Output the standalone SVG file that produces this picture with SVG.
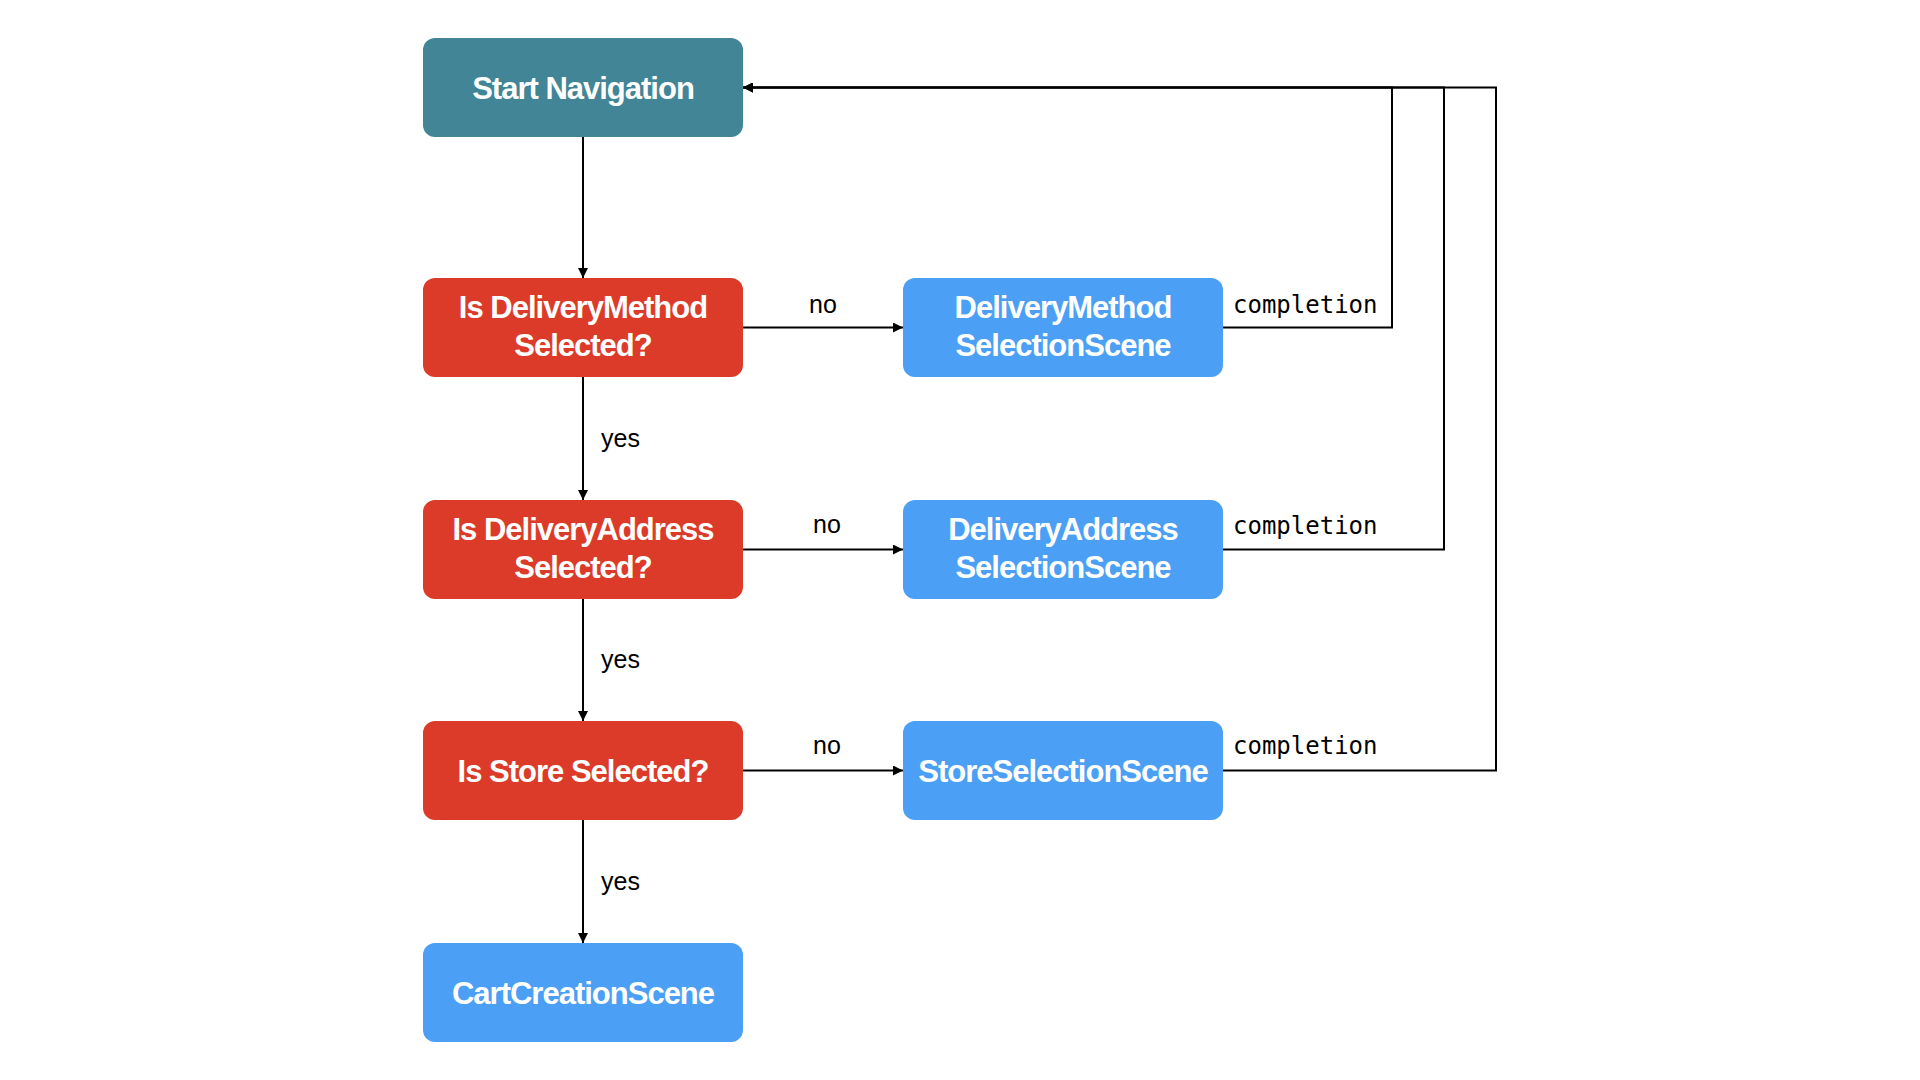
<svg xmlns="http://www.w3.org/2000/svg" width="1920" height="1080" viewBox="0 0 1920 1080">
<style>
.node-text{font-family:"Liberation Sans",Arial,sans-serif;font-weight:bold;font-size:31px;letter-spacing:-1px;fill:#ffffff;text-anchor:middle}
.lbl{font-family:"Liberation Sans",Arial,sans-serif;font-size:25px;fill:#000000}
.mono{font-family:"DejaVu Sans Mono","Liberation Mono",monospace;font-size:24px;fill:#000000}
.edge{fill:none;stroke:#000000;stroke-width:2}
.start{fill:#418596}
.decision{fill:#DB3B28}
.scene{fill:#4BA0F6}
</style>
<defs>
<marker id="arrow" markerUnits="userSpaceOnUse" markerWidth="12" markerHeight="10" refX="10" refY="5" orient="auto">
<path d="M0,0 L10,5 L0,10 Z" fill="#000000"/>
</marker>
</defs>
<rect width="1920" height="1080" fill="#ffffff"/>
<g id="connectors">
<path class="edge" d="M583,137 V278" marker-end="url(#arrow)"/>
<path class="edge" d="M583,377 V500" marker-end="url(#arrow)"/>
<path class="edge" d="M583,599 V721" marker-end="url(#arrow)"/>
<path class="edge" d="M583,820 V943" marker-end="url(#arrow)"/>
<path class="edge" d="M743,327.5 H903" marker-end="url(#arrow)"/>
<path class="edge" d="M743,549.5 H903" marker-end="url(#arrow)"/>
<path class="edge" d="M743,770.5 H903" marker-end="url(#arrow)"/>
<path class="edge" d="M1223,327.5 H1392 V87.5 H743" marker-end="url(#arrow)"/>
<path class="edge" d="M1223,549.5 H1444 V87.5 H743" marker-end="url(#arrow)"/>
<path class="edge" d="M1223,770.5 H1496 V87.5 H743" marker-end="url(#arrow)"/>
<text class="lbl" x="823" y="313" text-anchor="middle">no</text>
<text class="lbl" x="827" y="533" text-anchor="middle">no</text>
<text class="lbl" x="827" y="754" text-anchor="middle">no</text>
<text class="lbl" x="601" y="447">yes</text>
<text class="lbl" x="601" y="668">yes</text>
<text class="lbl" x="601" y="890">yes</text>
<text class="mono" x="1233" y="313">completion</text>
<text class="mono" x="1233" y="534">completion</text>
<text class="mono" x="1233" y="754">completion</text>
</g>
<g id="start-navigation">
<rect class="start" x="423" y="38" width="320" height="99" rx="12"/>
<text class="node-text" x="583" y="98.5">Start Navigation</text>
</g>
<g id="is-delivery-method-selected">
<rect class="decision" x="423" y="278" width="320" height="99" rx="12"/>
<text class="node-text" x="583" y="318">Is DeliveryMethod</text>
<text class="node-text" x="583" y="356">Selected?</text>
</g>
<g id="delivery-method-selection-scene">
<rect class="scene" x="903" y="278" width="320" height="99" rx="12"/>
<text class="node-text" x="1063" y="318">DeliveryMethod</text>
<text class="node-text" x="1063" y="356">SelectionScene</text>
</g>
<g id="is-delivery-address-selected">
<rect class="decision" x="423" y="500" width="320" height="99" rx="12"/>
<text class="node-text" x="583" y="540">Is DeliveryAddress</text>
<text class="node-text" x="583" y="578">Selected?</text>
</g>
<g id="delivery-address-selection-scene">
<rect class="scene" x="903" y="500" width="320" height="99" rx="12"/>
<text class="node-text" x="1063" y="540">DeliveryAddress</text>
<text class="node-text" x="1063" y="578">SelectionScene</text>
</g>
<g id="is-store-selected">
<rect class="decision" x="423" y="721" width="320" height="99" rx="12"/>
<text class="node-text" x="583" y="781.5">Is Store Selected?</text>
</g>
<g id="store-selection-scene">
<rect class="scene" x="903" y="721" width="320" height="99" rx="12"/>
<text class="node-text" x="1063" y="781.5">StoreSelectionScene</text>
</g>
<g id="cart-creation-scene">
<rect class="scene" x="423" y="943" width="320" height="99" rx="12"/>
<text class="node-text" x="583" y="1003.5">CartCreationScene</text>
</g>
</svg>
